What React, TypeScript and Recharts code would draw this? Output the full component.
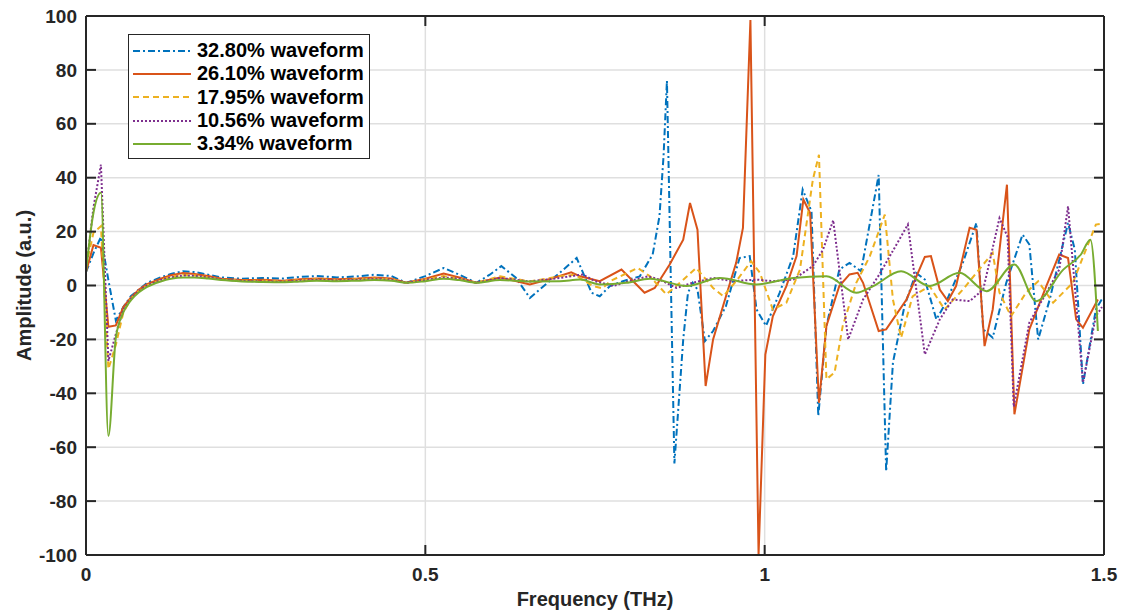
import React from "react";
import { LineChart, Line, XAxis, YAxis, CartesianGrid } from "recharts";

// frequency (THz) / amplitude (a.u.), one pair of arrays per waveform
const freq3280 = [0, 0.011, 0.022, 0.033, 0.044, 0.055, 0.066, 0.078, 0.09, 0.11, 0.125, 0.143, 0.16, 0.18, 0.2, 0.23, 0.26, 0.29, 0.315, 0.34, 0.37, 0.4, 0.425, 0.45, 0.472, 0.5, 0.527, 0.55, 0.575, 0.595, 0.612, 0.633, 0.654, 0.68, 0.698, 0.723, 0.745, 0.757, 0.772, 0.791, 0.816, 0.835, 0.845, 0.851, 0.856, 0.867, 0.88, 0.887, 0.894, 0.901, 0.912, 0.924, 0.943, 0.963, 0.978, 0.988, 1.002, 1.022, 1.042, 1.056, 1.069, 1.079, 1.091, 1.11, 1.125, 1.142, 1.168, 1.179, 1.189, 1.206, 1.223, 1.236, 1.253, 1.267, 1.292, 1.312, 1.322, 1.336, 1.356, 1.38, 1.39, 1.403, 1.42, 1.447, 1.457, 1.469, 1.488, 1.497];
const amp3280 = [5, 12, 18, 2, -13, -8, -4, -1.5, 1, 3, 4.3, 5.3, 5, 4, 3, 2.5, 2.8, 2.6, 3.2, 3.5, 3, 3.4, 4, 3.5, 1, 3.5, 6.5, 4, 1, 4, 7.2, 3, -4.6, 1, 4.7, 10.2, -2.7, -4, -0.2, 1.6, 3.4, 11.5, 25.7, 48, 76, -66, -20, -2.7, 1, -1.5, -20.6, -16.9, -7.6, 10.2, 10.9, -8.9, -15, -2.7, 10.9, 35.6, 27.5, -48.4, -15, 5.9, 8.4, 5.3, 41, -69, -28.6, -7.6, 4.7, 2.2, -12.6, -6.4, 8.4, 23.2, -16.3, -19.4, 1, 18.9, 15.2, -20, -5.2, 23.2, 13.3, -36.7, -8.9, -5];

const freq2610 = [0, 0.011, 0.022, 0.033, 0.044, 0.055, 0.066, 0.078, 0.09, 0.11, 0.125, 0.143, 0.16, 0.18, 0.2, 0.23, 0.26, 0.29, 0.315, 0.34, 0.37, 0.4, 0.425, 0.45, 0.472, 0.5, 0.527, 0.55, 0.575, 0.61, 0.654, 0.685, 0.715, 0.728, 0.757, 0.789, 0.811, 0.823, 0.838, 0.86, 0.88, 0.89, 0.901, 0.913, 0.924, 0.943, 0.958, 0.968, 0.979, 0.991, 1.001, 1.012, 1.032, 1.047, 1.057, 1.067, 1.08, 1.091, 1.11, 1.125, 1.137, 1.145, 1.168, 1.179, 1.209, 1.236, 1.245, 1.258, 1.27, 1.282, 1.302, 1.312, 1.324, 1.336, 1.357, 1.368, 1.39, 1.415, 1.434, 1.447, 1.459, 1.469, 1.491];
const amp2610 = [5, 15, 14, -15.3, -14.8, -8, -4.5, -1.5, 0.5, 2.5, 3.8, 4.6, 4.3, 3.5, 2.5, 2, 2.1, 1.8, 2.3, 2.6, 2.3, 2.6, 3, 2.6, 1, 2.5, 4.4, 3, 1, 3, 0.4, 2.5, 4.9, 3.4, 1.6, 5.9, 0.4, -2.7, -0.9, 7.8, 17, 30.6, 20.7, -37.3, -20, -4, 8.4, 21.4, 98.5, -100, -25.6, -11.4, -0.2, 10.9, 31.9, 26.9, -43.5, -15, -0.2, 4.1, 4.7, 1, -16.9, -16.3, -5.2, 10.6, 10.9, -1.5, -5.8, -0.2, 21.4, 20.7, -22.5, -8.9, 37.4, -47.8, -16.3, -0.2, 11.5, 10.2, -12.6, -15.7, -5.2];

const freq1795 = [0, 0.011, 0.022, 0.033, 0.044, 0.055, 0.066, 0.078, 0.09, 0.11, 0.125, 0.143, 0.16, 0.18, 0.2, 0.23, 0.26, 0.29, 0.315, 0.34, 0.37, 0.4, 0.425, 0.45, 0.472, 0.5, 0.527, 0.55, 0.575, 0.61, 0.654, 0.698, 0.72, 0.747, 0.761, 0.772, 0.813, 0.831, 0.855, 0.875, 0.899, 0.924, 0.939, 0.958, 0.98, 0.993, 1.012, 1.032, 1.052, 1.071, 1.08, 1.091, 1.103, 1.115, 1.135, 1.155, 1.177, 1.189, 1.201, 1.218, 1.243, 1.265, 1.292, 1.336, 1.346, 1.363, 1.385, 1.403, 1.425, 1.454, 1.488, 1.497];
const amp1795 = [7, 19.6, 22, -31, -22, -10, -5, -2, 0, 2, 3.2, 4, 3.8, 3, 2.2, 1.8, 1.8, 1.5, 2, 2.3, 2, 2.3, 2.6, 2.3, 1, 2.2, 3.5, 2.5, 1, 3.4, 1.5, 3.4, 4, -0.2, -1.1, 1.6, 6.5, 3.4, -3.3, 1, 6.5, -0.9, -4, 1.6, 9, 4.7, -8.9, -6.4, 5.9, 39.3, 48.5, -34.8, -32.3, -15, 1, 10.9, 26.3, -5.2, -19.4, -4, -0.2, -8.9, -1.5, 12.1, -2.7, -11.4, -2.7, 1.6, -6.4, 1, 22.6, 23];

const freq1056 = [0, 0.011, 0.022, 0.033, 0.044, 0.055, 0.066, 0.078, 0.09, 0.11, 0.125, 0.143, 0.16, 0.18, 0.2, 0.23, 0.26, 0.29, 0.315, 0.34, 0.37, 0.4, 0.425, 0.45, 0.472, 0.5, 0.527, 0.55, 0.575, 0.61, 0.654, 0.698, 0.732, 0.75, 0.777, 0.8, 0.828, 0.845, 0.87, 0.894, 0.924, 0.953, 0.988, 1.012, 1.042, 1.071, 1.086, 1.101, 1.123, 1.145, 1.169, 1.211, 1.236, 1.258, 1.277, 1.302, 1.322, 1.346, 1.358, 1.367, 1.39, 1.415, 1.434, 1.447, 1.469, 1.488, 1.497];
const amp1056 = [6, 29, 44.8, -28, -18, -9, -5, -2, 0, 2, 3, 3.7, 3.6, 3, 2.2, 1.7, 1.5, 1.4, 1.8, 2.1, 1.9, 2.1, 2.4, 2.1, 1, 2, 3, 2.5, 1, 2.8, 1.5, 2.8, 4.1, 1.6, -0.2, 1.6, 3.4, 2.2, -0.9, 1, 2.8, 1.6, 2.2, 1.6, 2.2, 7.2, 13.3, 24.2, -20, -5.2, 4.1, 22.6, -25.6, -12.6, -5.2, -5.8, -1.5, 25, 18, -45, -13.8, -2.7, 5.9, 29.4, -36, -11.4, -8];

const freq334 = [0, 0.011, 0.022, 0.033, 0.044, 0.055, 0.066, 0.078, 0.09, 0.11, 0.125, 0.143, 0.16, 0.18, 0.2, 0.23, 0.26, 0.29, 0.315, 0.34, 0.37, 0.4, 0.425, 0.45, 0.472, 0.5, 0.527, 0.55, 0.575, 0.61, 0.654, 0.698, 0.728, 0.757, 0.796, 0.831, 0.885, 0.934, 0.988, 1.042, 1.091, 1.135, 1.16, 1.201, 1.243, 1.287, 1.327, 1.368, 1.4, 1.44, 1.466, 1.48, 1.491];
const amp334 = [5, 27, 34.4, -55.8, -19.3, -10, -5.5, -2.5, -0.5, 1.5, 2.5, 3, 3, 2.6, 2, 1.5, 1.3, 1.2, 1.5, 1.8, 1.6, 1.8, 2, 1.8, 1, 1.6, 2.5, 2, 1, 2, 1.5, 1.6, 2.2, 0.4, 1, 2.5, -0.2, 2.8, 0.4, 2.8, 3.4, -2.7, -0.2, 5.3, -0.2, 4.7, -2.1, 7.8, -5.8, 5.9, 11.5, 17, -16.9];

const xTicks = [0, 0.5, 1, 1.5];
const yTicks = [-100, -80, -60, -40, -20, 0, 20, 40, 60, 80, 100];

const toRows = (f: number[], a: number[]) => f.map((x, i) => ({ f: x, a: a[i] }));

const series = [
  { name: "32.80% waveform", color: "#0072BD", dash: "7 3 2 3", curve: "linear", data: toRows(freq3280, amp3280) },
  { name: "26.10% waveform", color: "#D95319", dash: undefined, curve: "linear", data: toRows(freq2610, amp2610) },
  { name: "17.95% waveform", color: "#EDB120", dash: "6 4", curve: "linear", data: toRows(freq1795, amp1795) },
  { name: "10.56% waveform", color: "#7E2F8E", dash: "2 2", curve: "linear", data: toRows(freq1056, amp1056) },
  { name: "3.34% waveform", color: "#77AC30", dash: undefined, curve: "monotone", data: toRows(freq334, amp334) },
];

const FONT = "'Liberation Sans', Arial, Helvetica, sans-serif";
const INK = "#262626";
const TICK = 10; // inward tick length, MATLAB style
const axisLine = { stroke: INK, strokeWidth: 2 };

// tick renderers: draw the inward tick mark plus (optionally) the label
const LeftTick = (p: any) => (
  <g>
    <line x1={p.x + 9} x2={p.x + 9 + TICK} y1={p.y} y2={p.y} stroke={INK} strokeWidth={2} />
    <text x={p.x} y={p.y} dy="0.35em" textAnchor="end" fontSize={19} fontWeight={700} fill={INK} fontFamily={FONT}>
      {p.payload.value}
    </text>
  </g>
);
const BottomTick = (p: any) => (
  <g>
    <line x1={p.x} x2={p.x} y1={p.y - 13} y2={p.y - 13 - TICK} stroke={INK} strokeWidth={2} />
    <text x={p.x} y={p.y} dy="0.71em" textAnchor="middle" fontSize={19} fontWeight={700} fill={INK} fontFamily={FONT}>
      {p.payload.value}
    </text>
  </g>
);
const RightTick = (p: any) => <line x1={p.x} x2={p.x - TICK} y1={p.y} y2={p.y} stroke={INK} strokeWidth={2} />;
const TopTick = (p: any) => <line x1={p.x} x2={p.x} y1={p.y} y2={p.y + TICK} stroke={INK} strokeWidth={2} />;

const LegendBox = () => (
  <div style={{
    position: "absolute", left: 128, top: 34, background: "#fff", border: `1.5px solid ${INK}`,
    padding: "4px 5px 3px 4px", fontFamily: FONT,
  }}>
    {series.map(s => (
      <div key={s.name} style={{ display: "flex", alignItems: "center", height: 23.3 }}>
        <svg width={58} height={10} style={{ marginRight: 6 }}>
          <line x1={0} y1={5} x2={58} y2={5} stroke={s.color} strokeWidth={2} strokeDasharray={s.dash} />
        </svg>
        <span style={{ fontSize: 20, fontWeight: 700, color: "#000", whiteSpace: "nowrap" }}>{s.name}</span>
      </div>
    ))}
  </div>
);

export default function App() {
  return (
    <div style={{ position: "absolute", left: 0, top: 0, width: 1122, height: 613, background: "#fff" }}>
      <LineChart width={1122} height={613} margin={{ top: 15, right: 17, bottom: 0, left: 0 }}>
        <CartesianGrid stroke="#dfdfdf" strokeWidth={1.5} />
        <XAxis
          dataKey="f" type="number" domain={[0, 1.5]} ticks={xTicks} allowDataOverflow
          height={58} tickSize={0} tickMargin={13} tick={<BottomTick />}
          axisLine={axisLine} tickLine={false}
          label={{ value: "Frequency (THz)", position: "insideBottom", offset: 7, fontSize: 20, fontWeight: 700, fill: INK, fontFamily: FONT }}
        />
        <XAxis
          xAxisId="top" orientation="top" dataKey="f" type="number" domain={[0, 1.5]} ticks={xTicks} allowDataOverflow
          height={1} tickSize={0} tickMargin={0} tick={<TopTick />} axisLine={axisLine} tickLine={false}
        />
        <YAxis
          type="number" domain={[-100, 100]} ticks={yTicks} allowDataOverflow
          width={86} tickSize={0} tickMargin={9} tick={<LeftTick />}
          axisLine={axisLine} tickLine={false}
          label={{ value: "Amplitude (a.u.)", angle: -90, position: "insideLeft", offset: 24, fontSize: 20, fontWeight: 700, fill: INK, fontFamily: FONT, style: { textAnchor: "middle" } }}
        />
        <YAxis
          yAxisId="right" orientation="right" type="number" domain={[-100, 100]} ticks={yTicks} allowDataOverflow
          width={1} tickSize={0} tickMargin={0} tick={<RightTick />} axisLine={axisLine} tickLine={false}
        />
        {/* invisible copy so the mirrored top/right axes have a series to scale against */}
        <Line
          xAxisId="top" yAxisId="right" data={series[0].data} dataKey="a" stroke="none"
          dot={false} activeDot={false} isAnimationActive={false} legendType="none"
        />
        {series.map(s => (
          <Line
            key={s.name} data={s.data} dataKey="a" name={s.name} type={s.curve as any}
            stroke={s.color} strokeWidth={2} strokeDasharray={s.dash}
            dot={false} activeDot={false} isAnimationActive={false}
          />
        ))}
      </LineChart>
      <LegendBox />
    </div>
  );
}
